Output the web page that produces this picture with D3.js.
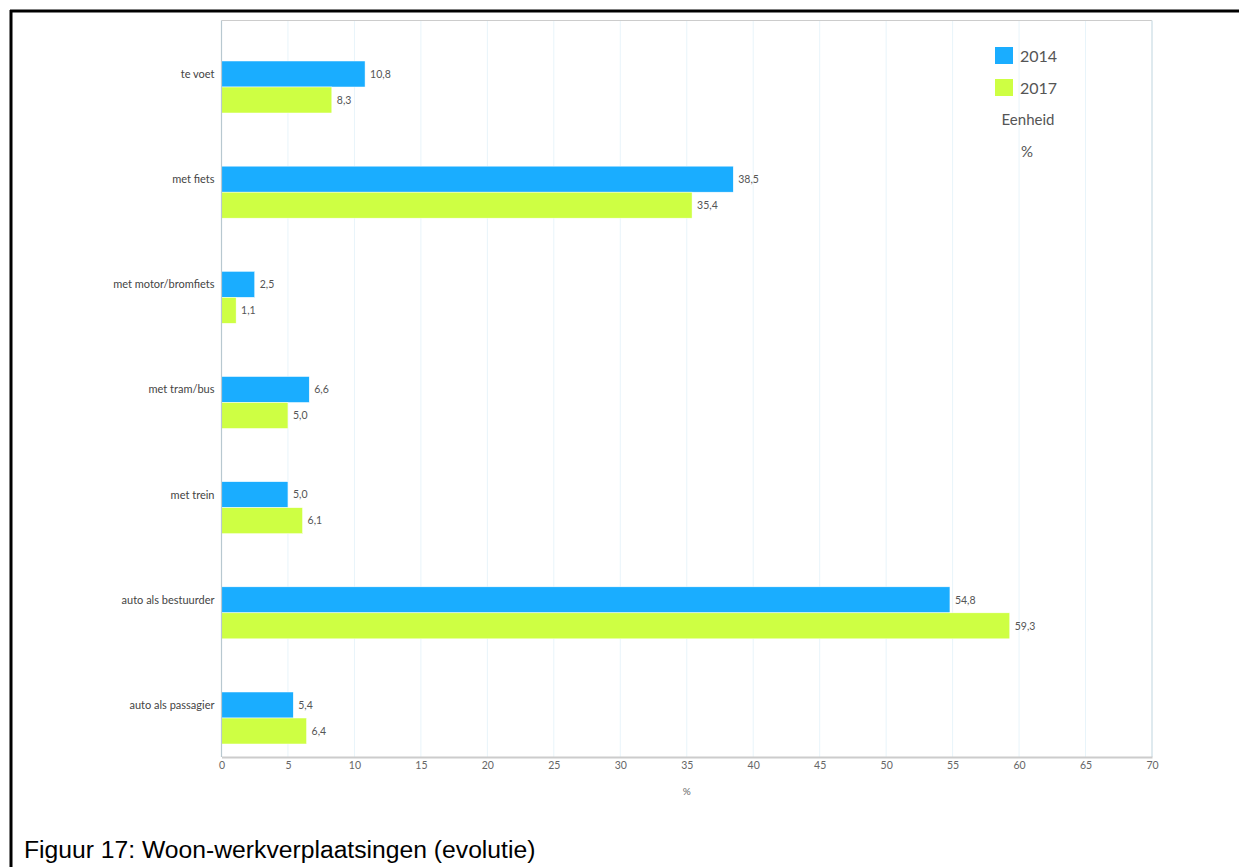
<!DOCTYPE html>
<html><head><meta charset="utf-8">
<script src="https://cdn.jsdelivr.net/npm/d3@7"></script>
<style>body{margin:0;background:#fff;} svg{display:block;}</style>
</head><body>
<svg id="c" width="1239" height="867"></svg>
<script>
const categories = ["te voet","met fiets","met motor/bromfiets","met tram/bus","met trein","auto als bestuurder","auto als passagier"];
const series = ["2014","2017"];
const values2014 = [10.8,38.5,2.5,6.6,5.0,54.8,5.4];
const values2017 = [8.3,35.4,1.1,5.0,6.1,59.3,6.4];
const colors = ["#1aadff","#ceff43"];
const xTicks = [0,5,10,15,20,25,30,35,40,45,50,55,60,65,70];
const fmt = v => d3.format(".1f")(v).replace(".", ",");

const svg = d3.select("#c");
const L = 221.5, R = 1152, T = 20.5, B = 757;
const x = d3.scaleLinear().domain([0,70]).range([L,R]);
const y = d3.scalePoint().domain(categories).range([87,718]);
const bh = 26;
const FF = "Lato, 'Open Sans', sans-serif";

// outer black frame
svg.append("line").attr("x1",10).attr("x2",1239).attr("y1",11).attr("y2",11).attr("stroke","#000").attr("stroke-width",3);
svg.append("line").attr("x1",11).attr("x2",11).attr("y1",10).attr("y2",867).attr("stroke","#000").attr("stroke-width",3);

// gridlines
svg.append("g").selectAll("line").data(xTicks.filter(d=>d>0&&d<70)).join("line")
  .attr("x1",d=>x(d)).attr("x2",d=>x(d)).attr("y1",T).attr("y2",B)
  .attr("stroke","#e8f4fa").attr("stroke-width",1);

// plot frame
svg.append("line").attr("x1",L).attr("x2",R).attr("y1",T).attr("y2",T).attr("stroke","#cccccc").attr("stroke-width",1);
svg.append("line").attr("x1",R).attr("x2",R).attr("y1",T).attr("y2",B).attr("stroke","#d5e3ea").attr("stroke-width",1.5);

// bars
const g = svg.append("g");
[values2014, values2017].forEach((vals, si) => {
  g.selectAll(null).data(categories).join("rect")
    .attr("x", x(0))
    .attr("y", d => y(d) - bh + si*bh)
    .attr("width", (d,i) => x(vals[i]) - x(0))
    .attr("height", bh)
    .attr("fill", colors[si])
    .attr("stroke","#ffffff").attr("stroke-width",0.5);
  g.selectAll(null).data(categories).join("text")
    .attr("x", (d,i) => x(vals[i]) + 5)
    .attr("y", d => y(d) - bh/2 + si*bh)
    .attr("dy","0.35em")
    .attr("font-family",FF).attr("font-size",10.5).attr("fill","#555")
    .text((d,i)=>fmt(vals[i]));
});

// left axis line
svg.append("line").attr("x1",L).attr("x2",L).attr("y1",T).attr("y2",B).attr("stroke","#b8c8d0").attr("stroke-width",1.2);

// category labels
svg.append("g").selectAll("text").data(categories).join("text")
  .attr("x", L - 7).attr("y", d => y(d) - bh/2).attr("dy","0.35em")
  .attr("text-anchor","end")
  .attr("font-family",FF).attr("font-size",11).attr("fill","#444")
  .text(d=>d);

// bottom axis
const xa = svg.append("g").attr("transform",`translate(0,${B})`)
  .call(d3.axisBottom(x).tickValues(xTicks).tickSize(0).tickPadding(5).tickFormat(d3.format("d")));
xa.select(".domain").attr("stroke","#cccccc").attr("stroke-width",2);
xa.selectAll("text").attr("font-family",FF).attr("font-size",10.5).attr("fill","#666");

svg.append("text").attr("x",(L+R)/2).attr("y",795).attr("text-anchor","middle")
  .attr("font-family",FF).attr("font-size",10).attr("fill","#666").text("%");

// legend
const lg = svg.append("g");
series.forEach((s,i)=>{
  lg.append("rect").attr("x",995).attr("y",47+i*32).attr("width",18).attr("height",17).attr("fill",colors[i]);
  lg.append("text").attr("x",1020).attr("y",56+i*32).attr("dy","0.35em")
    .attr("font-family",FF).attr("font-size",16).attr("fill","#555").text(s);
});
lg.append("text").attr("x",1028).attr("y",120).attr("dy","0.35em").attr("text-anchor","middle")
  .attr("font-family",FF).attr("font-size",15).attr("fill","#555").text("Eenheid");
lg.append("text").attr("x",1027).attr("y",152).attr("dy","0.35em").attr("text-anchor","middle")
  .attr("font-family",FF).attr("font-size",15).attr("fill","#555").text("%");

// caption
svg.append("text").attr("x",24).attr("y",858)
  .attr("font-family","'Liberation Sans', Arial, sans-serif").attr("font-size",24.7).attr("fill","#000")
  .text("Figuur 17: Woon-werkverplaatsingen (evolutie)");
</script>
</body></html>
